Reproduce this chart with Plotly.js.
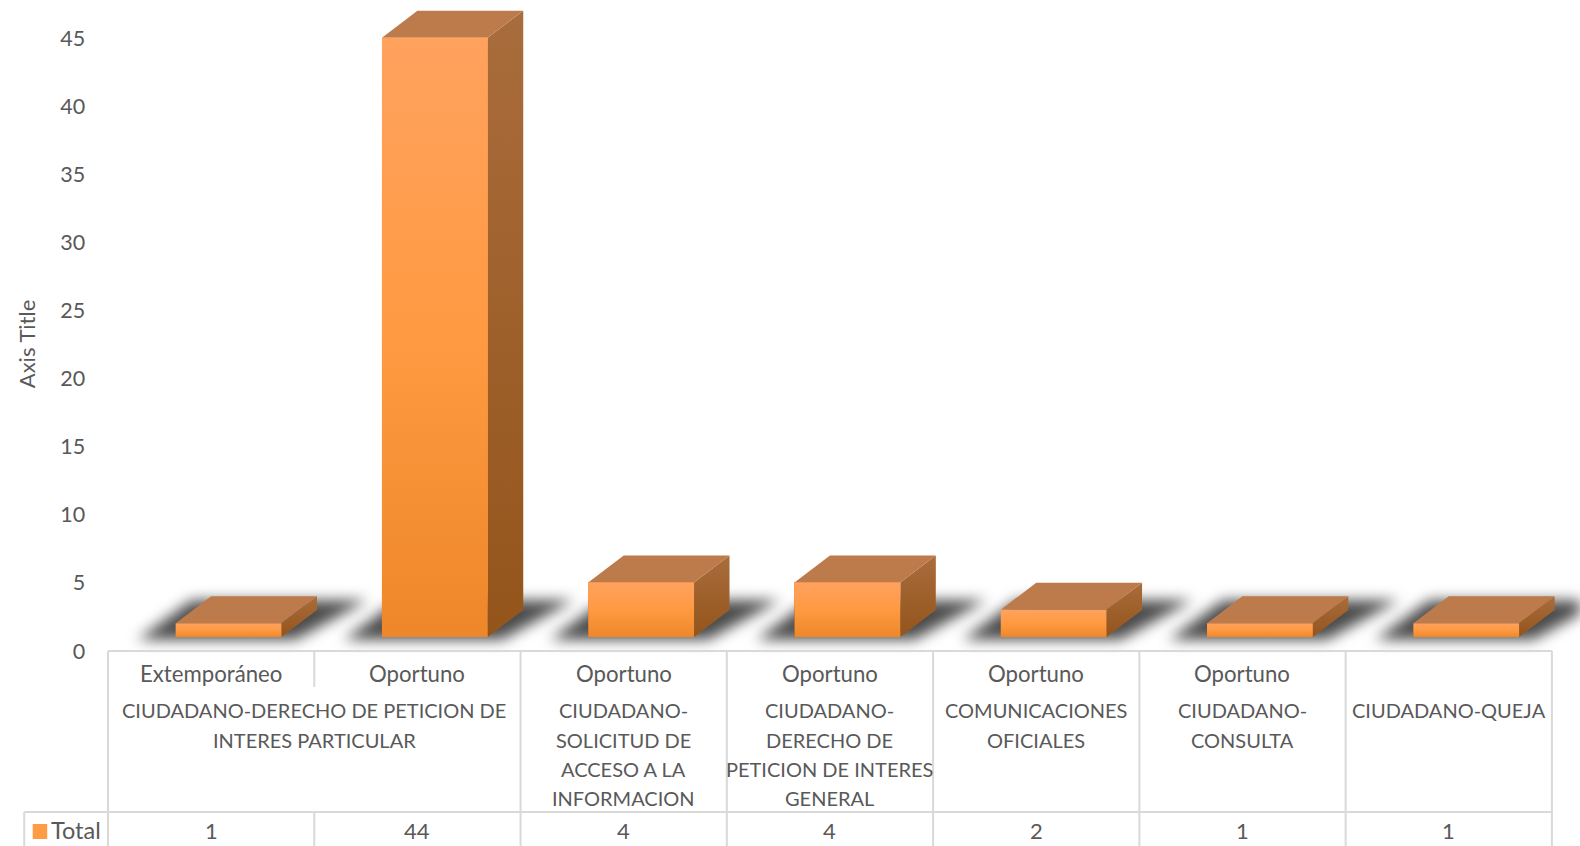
<!DOCTYPE html>
<html><head><meta charset="utf-8">
<script src="https://cdn.plot.ly/plotly-3.0.1.min.js"></script>
<style>html,body{margin:0;padding:0;background:#fff}#c{width:1580px;height:846px}</style>
</head><body><div id="c"></div>
<script>
// ---- data ----
var statusLabels = ['Extemporáneo','Oportuno','Oportuno','Oportuno','Oportuno','Oportuno',''];
var groupLabels = [
  {from:0, to:2, lines:['CIUDADANO-DERECHO DE PETICION DE','INTERES PARTICULAR']},
  {from:2, to:3, lines:['CIUDADANO-','SOLICITUD DE','ACCESO A LA','INFORMACION']},
  {from:3, to:4, lines:['CIUDADANO-','DERECHO DE','PETICION DE INTERES','GENERAL']},
  {from:4, to:5, lines:['COMUNICACIONES','OFICIALES']},
  {from:5, to:6, lines:['CIUDADANO-','CONSULTA']},
  {from:6, to:7, lines:['CIUDADANO-QUEJA']}
];
var totals = [1,44,4,4,2,1,1];
var seriesName = 'Total';
var yTicks = [0,5,10,15,20,25,30,35,40,45];

// ---- geometry ----
var W=1580,H=846, mL=107.8, colW=206.3, y0px=651, pxPerUnit=13.62, plotBot=688;
var floorV=1.03;                // bars stand above the tick "0"
var barL=0.328, barR=0.841;     // front face inside a category slot
var depthX=35.5/colW, depthY=27/pxPerUnit;
function pX(p){return (p-mL)/(W-mL);}
function pY(p){return 1-p/plotBot;}

var traces=[];
var noLine={width:0};
function poly(xs,ys,extra){
  var t={type:'scatter',mode:'lines',x:xs.concat(xs[0]),y:ys.concat(ys[0]),fill:'toself',line:noLine,
         hoverinfo:'skip',showlegend:false,cliponaxis:false};
  for(var k in extra)t[k]=extra[k];
  return t;
}
// real bars
var barX=totals.map(function(_,i){return i+(barL+barR)/2;});
traces.push({type:'bar',name:seriesName,x:barX,y:totals,base:totals.map(function(){return floorV;}),
  width:barR-barL,marker:{color:'#FF9A45',line:{width:0}},cliponaxis:false,showlegend:false});
// floor shadows (blurred after plotting)
var nShadow=0;
totals.forEach(function(v,i){
  var l=i+barL,r=i+barR,b=floorV-0.2,t=floorV+2.7;
  traces.push(poly([l-38/colW,r+14/colW,r+86/colW,l+16/colW],[b,b,t,t],{fillcolor:'rgba(55,55,55,0.9)'}));
  nShadow++;
});
// 3D faces
totals.forEach(function(v,i){
  var l=i+barL,r=i+barR,b=floorV,t=floorV+v;
  traces.push(poly([r,r+depthX,r+depthX,r],[b,b+depthY,t+depthY,t],
    {fillgradient:{type:'vertical',colorscale:[[0,'#94551B'],[1,'#A96C3C']]}}));
  traces.push(poly([l,r,r+depthX,l+depthX],[t,t,t+depthY,t+depthY],{fillcolor:'#BD7A4B'}));
  traces.push(poly([l,r,r,l],[b,b,t,t],
    {fillgradient:{type:'vertical',colorscale:[[0,'#EE8729'],[0.5,'#FF9A42'],[1,'#FFA25E']]}}));
});

// ---- table ----
var shapes=[],annos=[];
var gridCol='#D9D9D9';
function seg(x0,y0,x1,y1){shapes.push({type:'line',xref:'paper',yref:'paper',x0:pX(x0),x1:pX(x1),y0:pY(y0),y1:pY(y1),
  line:{color:gridCol,width:2},layer:'above'});}
var tTop=651,tSplit=687,tRow=812,tBot=846,tR=mL+colW*7;
seg(mL,tTop,tR,tTop); seg(24,tRow,tR,tRow);
seg(24,tRow,24,tBot); seg(mL,tTop,mL,tBot); seg(tR,tTop,tR,tBot);
for(var i=1;i<7;i++){
  var xp=mL+colW*i;
  if(i===1){seg(xp,tTop,xp,tSplit);seg(xp,tRow,xp,tBot);}
  else seg(xp,tTop,xp,tBot);
}
// legend key
shapes.push({type:'rect',xref:'paper',yref:'paper',x0:pX(32.5),x1:pX(47),y0:pY(839),y1:pY(824),
  line:{width:0},fillcolor:'#FF9A45',layer:'above'});

var fam='Lato, "Open Sans", sans-serif', col='#595959';
function txt(s,xp,yp,size,anchor){annos.push({text:s,xref:'paper',yref:'paper',x:pX(xp),y:pY(yp),showarrow:false,
  xanchor:anchor||'center',yanchor:'middle',font:{family:fam,size:size,color:col},borderpad:0,align:'center'});}
statusLabels.forEach(function(s,i){if(s)txt(s,mL+colW*(i+0.5),673,22.2);});
groupLabels.forEach(function(g){
  g.lines.forEach(function(s,j){txt(s,mL+colW*(g.from+g.to)/2,710.5+29.1*j,20);});
});
totals.forEach(function(v,i){txt(String(v),mL+colW*(i+0.5),830,22);});
txt(seriesName,49.5,830,23.5,'left');

var layout={
  width:W,height:H,paper_bgcolor:'#fff',plot_bgcolor:'rgba(0,0,0,0)',showlegend:false,
  margin:{l:mL,r:0,t:0,b:H-plotBot,pad:0},
  xaxis:{range:[0,(W-mL)/colW],showgrid:false,zeroline:false,showticklabels:false,ticks:'',showline:false,fixedrange:true},
  yaxis:{range:[(y0px-plotBot)/pxPerUnit,y0px/pxPerUnit],tickmode:'array',tickvals:yTicks,ticktext:yTicks.map(String),
    showgrid:false,zeroline:false,showline:false,ticks:'outside',ticklen:17.5,tickcolor:'rgba(0,0,0,0)',
    tickfont:{family:fam,size:21.5,color:col},fixedrange:true,
    title:{text:'Axis Title',font:{family:fam,size:22,color:col},standoff:18}},
  shapes:shapes,annotations:annos,bargap:0
};
Plotly.newPlot('c',traces,layout,{displayModeBar:false,staticPlot:true}).then(function(gd){
  var tr=gd.querySelectorAll('.scatterlayer .trace');
  for(var i=0;i<nShadow;i++){tr[i].style.filter='blur(7px)';}
});
</script></body></html>
